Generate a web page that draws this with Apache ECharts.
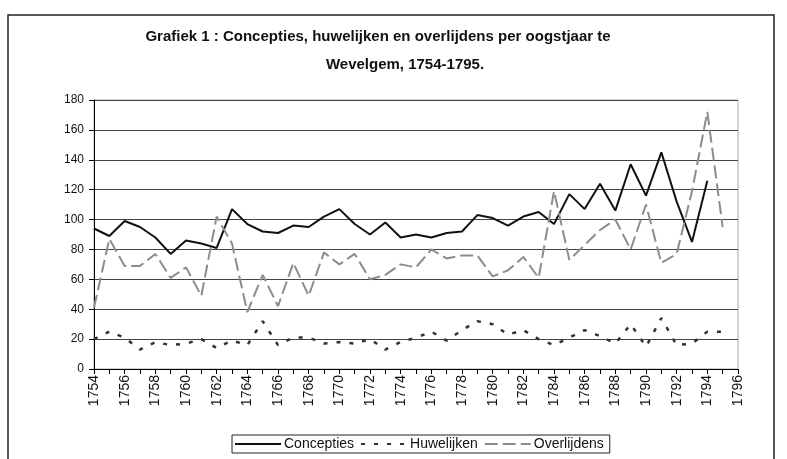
<!DOCTYPE html>
<html>
<head>
<meta charset="utf-8">
<script src="https://cdn.jsdelivr.net/npm/echarts@6/dist/echarts.min.js"></script>
<style>
  html, body { margin: 0; padding: 0; background: #fff; }
  #chart { width: 787px; height: 459px; }
</style>
</head>
<body>
<div id="chart"></div>
<script>
// jaren op de x-as (1796 alleen als laatste tick)
const years = [];
for (let y = 1754; y <= 1796; y++) years.push(String(y));

const concepties = [94, 89, 99, 95, 88, 77, 86, 84, 81, 107, 97, 92, 91, 96, 95, 102, 107, 97, 90, 98, 88, 90,
  88, 91, 92, 103, 101, 96, 102, 105, 97, 117, 107, 124, 106, 137, 116, 145, 112, 85, 126, null, null];
const huwelijken = [20, 25, 21, 13, 18, 16, 17, 20, 14, 19, 16, 32, 16, 21, 21, 17, 18, 17, 20, 13, 18, 21,
  25, 19, 26, 32, 30, 23, 26, 20, 16, 21, 26, 22, 17, 30, 15, 34, 16, 17, 25, 25, null];
const overlijdens = [41, 87, 69, 69, 77, 61, 68, 49, 102, 84, 38, 63, 42, 71, 49, 78, 70, 77, 60, 63, 70, 68,
  80, 74, 76, 76, 62, 66, 75, 61, 119, 73, 83, 93, 100, 80, 110, 71, 77, 119, 172, 95, null];

const titleLine1 = 'Grafiek 1 : Concepties, huwelijken en overlijdens per oogstjaar te';
const titleLine2 = 'Wevelgem, 1754-1795.';

const narrow = "'Liberation Sans Narrow', 'Liberation Sans', Arial, sans-serif";
const sans = "'Liberation Sans', Arial, sans-serif";

let myChart = echarts.init(document.getElementById('chart'));
let options = {
  animation: false,
  backgroundColor: '#fff',
  graphic: [
    { // kader rond de grafiek
      type: 'rect', shape: { x: 8, y: 15, width: 766, height: 470 },
      style: { fill: 'none', stroke: '#222', lineWidth: 1.5 }
    },
    {
      type: 'text', x: 378, y: 37,
      style: { text: titleLine1, textAlign: 'center', textVerticalAlign: 'middle',
        font: "bold 15px " + narrow, fill: '#111' }
    },
    {
      type: 'text', x: 405, y: 65,
      style: { text: titleLine2, textAlign: 'center', textVerticalAlign: 'middle',
        font: "bold 15px " + narrow, fill: '#111' }
    }
  ],
  grid: {
    left: 94, right: 49, top: 100, bottom: 90,
    show: true, borderColor: '#aaa', borderWidth: 1
  },
  legend: {
    left: 232, top: 435,
    data: ['Concepties', 'Huwelijken', 'Overlijdens'],
    itemWidth: 46, itemHeight: 10, itemGap: 6,
    padding: [2, 6, 2, 2],
    borderColor: '#222', borderWidth: 1,
    itemStyle: { opacity: 0 },
    textStyle: { fontFamily: narrow, fontSize: 14, color: '#111', padding: [0, 0, 0, -2] }
  },
  xAxis: {
    type: 'category',
    data: years,
    boundaryGap: false,
    axisLine: { lineStyle: { color: '#000', width: 1 } },
    axisTick: { show: true, interval: 0, length: 5, lineStyle: { color: '#000' } },
    axisLabel: { interval: 1, rotate: 90, margin: 6, fontFamily: sans, fontSize: 14, color: '#111' },
    splitLine: { show: false }
  },
  yAxis: {
    type: 'value',
    min: 0, max: 180, interval: 20,
    axisLine: { show: true, lineStyle: { color: '#000', width: 1 } },
    axisTick: { show: true, length: 5, lineStyle: { color: '#000' } },
    axisLabel: { margin: 10, fontFamily: sans, fontSize: 12, color: '#111' },
    splitLine: { show: true, lineStyle: { color: '#444', width: 1 } }
  },
  series: [
    {
      name: 'Concepties', type: 'line', data: concepties,
      symbol: 'none', connectNulls: false,
      color: '#111',
      lineStyle: { color: '#111', width: 2 }
    },
    {
      name: 'Huwelijken', type: 'line', data: huwelijken,
      symbol: 'none',
      color: '#333',
      lineStyle: { color: '#333', width: 2.5, type: [4, 9] }
    },
    {
      name: 'Overlijdens', type: 'line', data: overlijdens,
      symbol: 'none',
      color: '#8c8c8c',
      lineStyle: { color: '#8c8c8c', width: 2, type: [13, 5] }
    }
  ]
};
myChart.setOption(options);
</script>
</body>
</html>
